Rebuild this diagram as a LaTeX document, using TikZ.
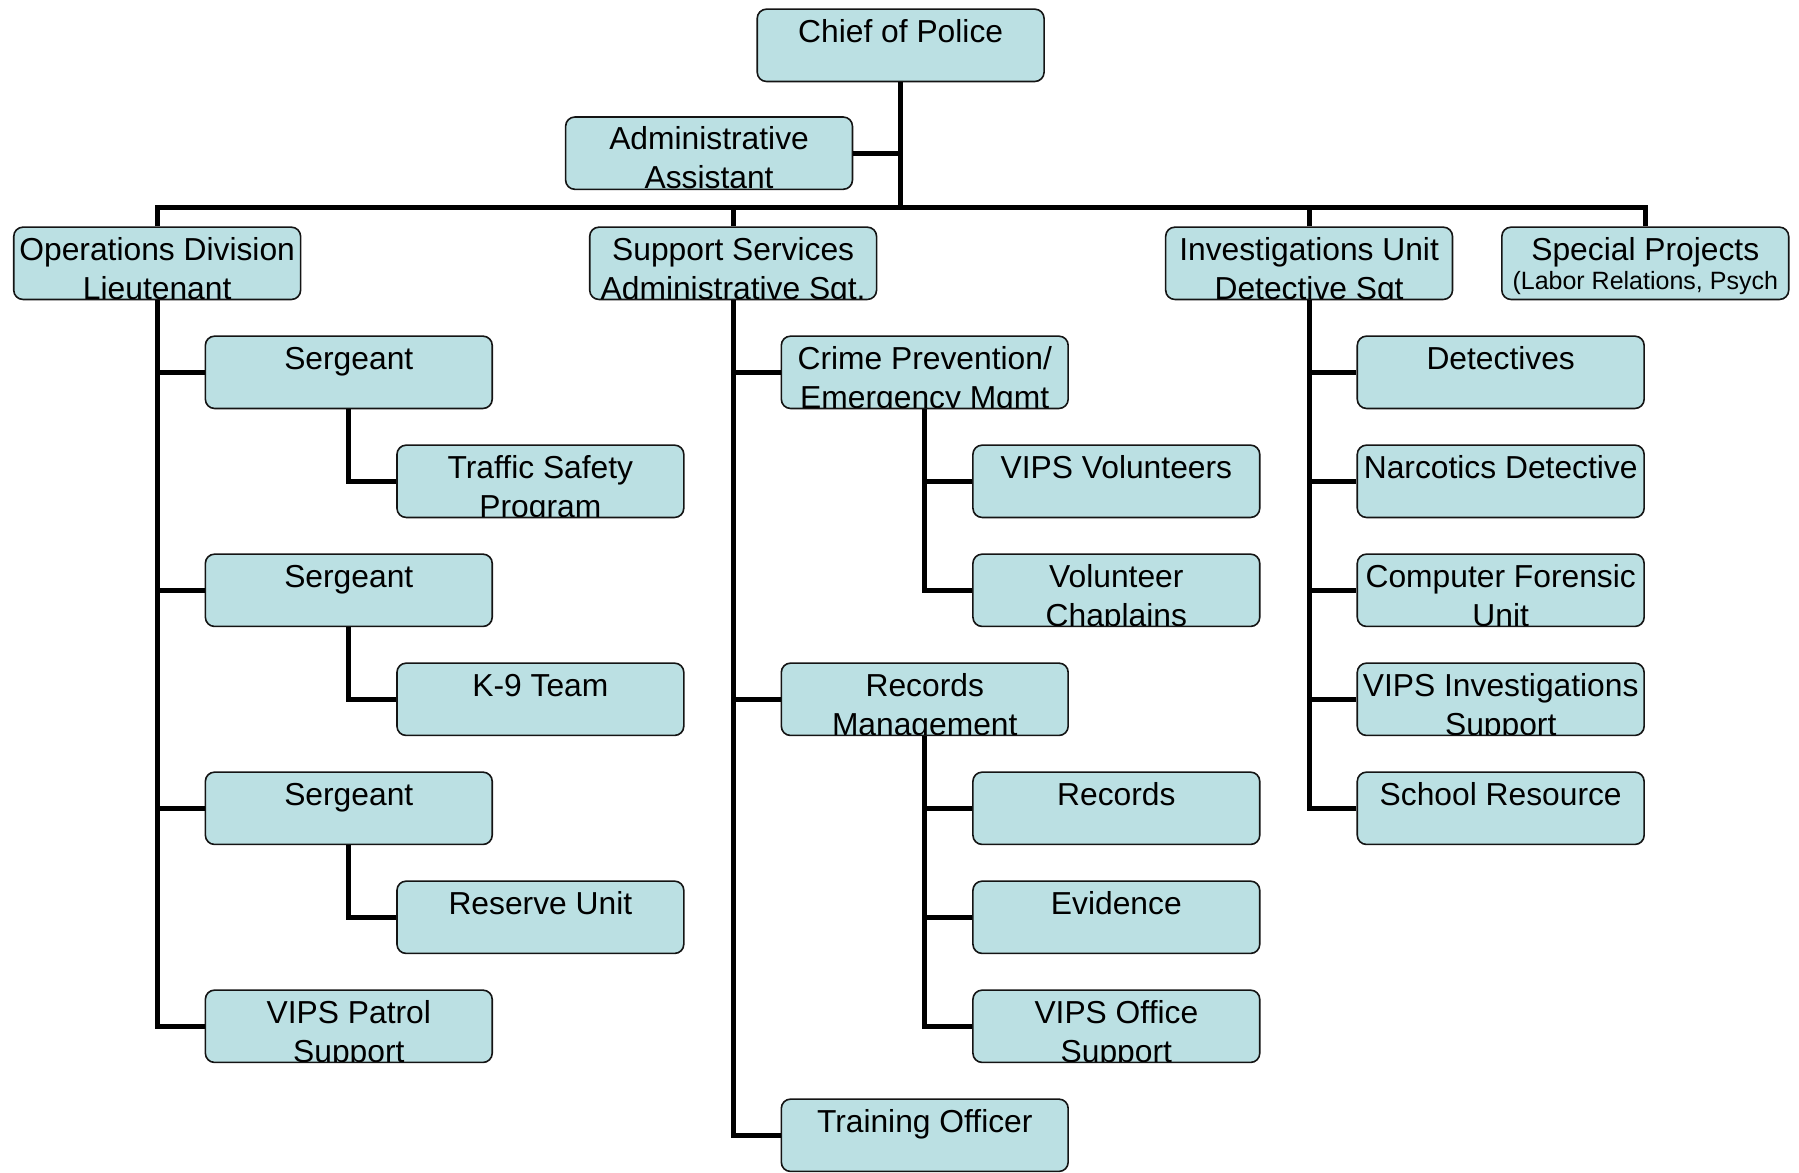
\documentclass[tikz,border=0pt]{standalone}
\usepackage{fontspec}
\setmainfont{Liberation Sans}
\definecolor{boxfill}{RGB}{187,224,227}
\definecolor{boxline}{RGB}{20,20,20}
\tikzset{
  unitbox/.style={draw=boxline, line width=0.7pt, fill=boxfill, rounded corners=4pt,
    minimum width=125pt, minimum height=31.5pt, inner sep=0pt},
  lbl/.style={inner sep=0pt, font=\fontsize{13.85pt}{17pt}\selectfont},
  smalllbl/.style={inner sep=0pt, font=\fontsize{10.9pt}{13pt}\selectfont},
  conn/.style={line width=2.2pt, line cap=butt, line join=miter},
}
% \orgbox{name}{centre x}{top y}{first line}{second line}
% Lines are clipped to the inside of the rounded box.
\newcommand\orgbox[5]{%
  \node[unitbox] (#1) at (#2,#3+31.5) {};
  \begin{scope}
    \clip[rounded corners=3.5pt] ([shift={(0.9pt,-0.9pt)}]#1.north west) rectangle ([shift={(-0.9pt,0.9pt)}]#1.south east);
    \node[lbl, anchor=base] (#1-a) at ([yshift=-14.7pt]#1.north) {#4};
    \node[lbl, anchor=base] (#1-b) at ([yshift=-31.7pt]#1.north) {#5};
  \end{scope}}
\begin{document}
\begin{tikzpicture}[x=0.5pt, y=-0.5pt]
\useasboundingbox (0,0) rectangle (1568,1022);

% top of the chart
\orgbox{chief}{785}{8}{Chief of Police}{}
\orgbox{admin}{618}{102}{Administrative}{Assistant}

% divisions
\orgbox{ops}{137}{198}{Operations Division}{Lieutenant}
\orgbox{sup}{639}{198}{Support Services}{Administrative Sgt.}
\orgbox{inv}{1141}{198}{Investigations Unit}{Detective Sgt}
\node[unitbox] (spec) at (1434,229.5) {};
\node[lbl, anchor=base] (spec-a) at ([yshift=-14.7pt]spec.north) {Special Projects};
\node[smalllbl, anchor=base] (spec-b) at ([yshift=-27.3pt]spec.north) {(Labor Relations, Psych};

% operations
\orgbox{sgta}{304}{293}{Sergeant}{}
\orgbox{traffic}{471}{388}{Traffic Safety}{Program}
\orgbox{sgtb}{304}{483}{Sergeant}{}
\orgbox{knine}{471}{578}{K-9 Team}{}
\orgbox{sgtc}{304}{673}{Sergeant}{}
\orgbox{reserve}{471}{768}{Reserve Unit}{}
\orgbox{vpatrol}{304}{863}{VIPS Patrol}{Support}

% support services
\orgbox{crime}{806}{293}{Crime Prevention/}{Emergency Mgmt}
\orgbox{vvol}{973}{388}{VIPS Volunteers}{}
\orgbox{chap}{973}{483}{Volunteer}{Chaplains}
\orgbox{recm}{806}{578}{Records}{Management}
\orgbox{rec}{973}{673}{Records}{}
\orgbox{evid}{973}{768}{Evidence}{}
\orgbox{voffice}{973}{863}{VIPS Office}{Support}
\orgbox{train}{806}{958}{Training Officer}{}

% investigations
\orgbox{det}{1308}{293}{Detectives}{}
\orgbox{narc}{1308}{388}{Narcotics Detective}{}
\orgbox{comp}{1308}{483}{Computer Forensic}{Unit}
\orgbox{vinv}{1308}{578}{VIPS Investigations}{Support}
\orgbox{school}{1308}{673}{School Resource}{}

% connectors
\coordinate (bus) at (0,181);
\draw[conn] (chief.south) -- (chief.south |- bus);
\draw[conn] (admin.east) -- (admin.east -| chief.south);
\draw[conn] (ops.north) -- (ops.north |- bus) -- (spec.north |- bus) -- (spec.north);
\draw[conn] (sup.north) -- (sup.north |- bus);
\draw[conn] (inv.north) -- (inv.north |- bus);

\draw[conn] (ops.south) |- (vpatrol.west);
\draw[conn] (ops.south |- sgta.west) -- (sgta.west);
\draw[conn] (ops.south |- sgtb.west) -- (sgtb.west);
\draw[conn] (ops.south |- sgtc.west) -- (sgtc.west);
\draw[conn] (sgta.south) |- (traffic.west);
\draw[conn] (sgtb.south) |- (knine.west);
\draw[conn] (sgtc.south) |- (reserve.west);

\draw[conn] (sup.south) |- (train.west);
\draw[conn] (sup.south |- crime.west) -- (crime.west);
\draw[conn] (sup.south |- recm.west) -- (recm.west);
\draw[conn] (crime.south) |- (chap.west);
\draw[conn] (crime.south |- vvol.west) -- (vvol.west);
\draw[conn] (recm.south) |- (voffice.west);
\draw[conn] (recm.south |- rec.west) -- (rec.west);
\draw[conn] (recm.south |- evid.west) -- (evid.west);

\draw[conn] (inv.south) |- (school.west);
\draw[conn] (inv.south |- det.west) -- (det.west);
\draw[conn] (inv.south |- narc.west) -- (narc.west);
\draw[conn] (inv.south |- comp.west) -- (comp.west);
\draw[conn] (inv.south |- vinv.west) -- (vinv.west);
\end{tikzpicture}
\end{document}
